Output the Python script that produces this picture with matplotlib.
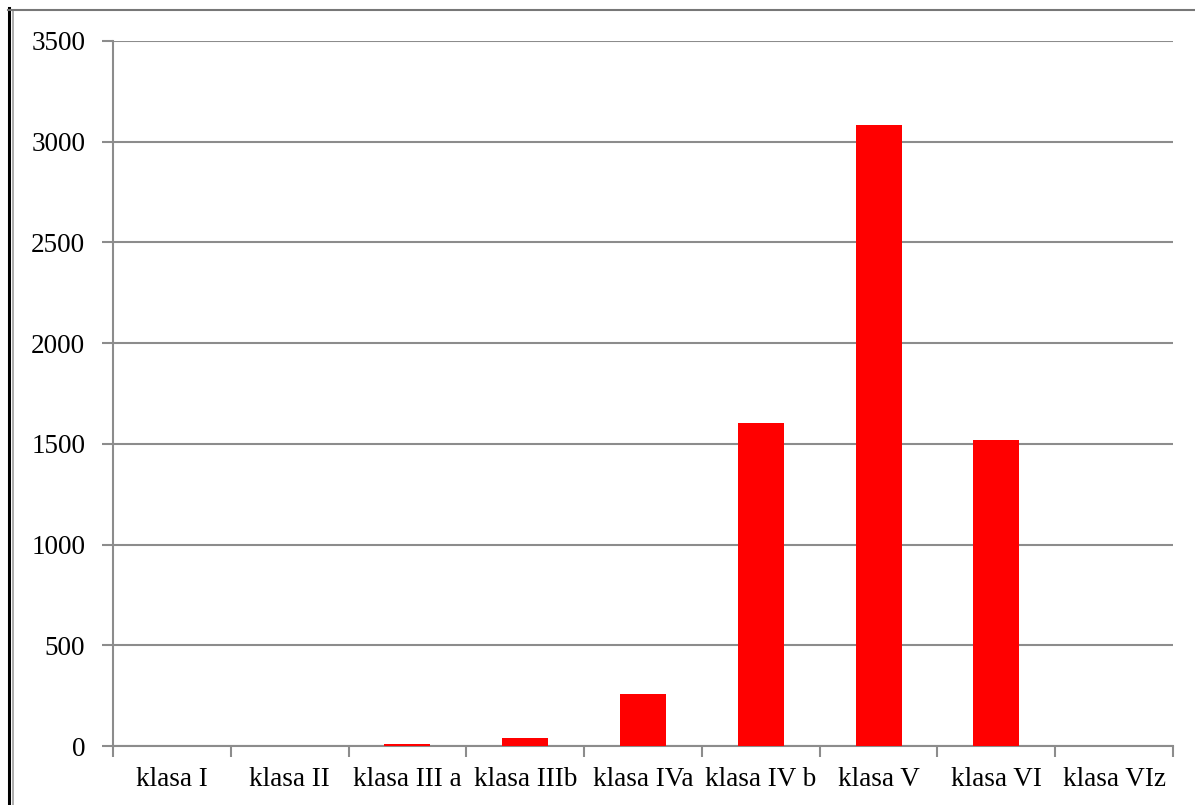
import matplotlib
matplotlib.use("Agg")
from matplotlib import pyplot as plt
from matplotlib.lines import Line2D
import numpy as np

categories = ["klasa I", "klasa II", "klasa III a", "klasa IIIb", "klasa IVa",
              "klasa IV b", "klasa V", "klasa VI", "klasa VIz"]
values = [0, 0, 12, 38, 258, 1604, 3083, 1518, 0]
yticks = [0, 500, 1000, 1500, 2000, 2500, 3000, 3500]

plt.rcParams['font.family'] = ['Liberation Serif', 'DejaVu Serif']
grey = "#8c8c8c"

fig = plt.figure(figsize=(11.95, 8.05), dpi=100)
ax = fig.add_axes([113/1195, 1 - 746/805, 1060/1195, 705/805])

x = np.arange(len(categories))
ax.bar(x, values, width=0.39, color="#ff0000", zorder=3)

ax.set_xlim(-0.5, len(categories) - 0.5)
ax.set_ylim(0, 3500)
ax.set_yticks(yticks)
ax.set_yticklabels([str(v) for v in yticks], fontsize=19.5)
ax.yaxis.grid(True, color=grey, linewidth=1.5, zorder=0)

ax.set_xticks(x)
ax.set_xticklabels(categories, fontsize=19.5)
ax.set_xticks(np.arange(-0.5, len(categories)), minor=True)
ax.tick_params(axis="x", which="major", length=0, pad=15)
ax.tick_params(axis="x", which="minor", length=8, width=1.5, color=grey, direction="out")
ax.tick_params(axis="y", length=8, width=1.5, color=grey, pad=12)

for s in ["top", "right"]:
    ax.spines[s].set_visible(False)
for s in ["left", "bottom"]:
    ax.spines[s].set_color(grey)
    ax.spines[s].set_linewidth(1.5)

# outer frame
fig.add_artist(Line2D([9/1195, 9/1195], [0, 1 - 8/805], color="black", linewidth=2.2, transform=fig.transFigure))
fig.add_artist(Line2D([12.5/1195, 12.5/1195], [0, 1 - 10/805], color="#a0a0a0", linewidth=1.2, transform=fig.transFigure))
fig.add_artist(Line2D([8/1195, 1], [1 - 10.5/805, 1 - 10.5/805], color="#777777", linewidth=1.5, transform=fig.transFigure))

fig.savefig("out.png", dpi=100)
